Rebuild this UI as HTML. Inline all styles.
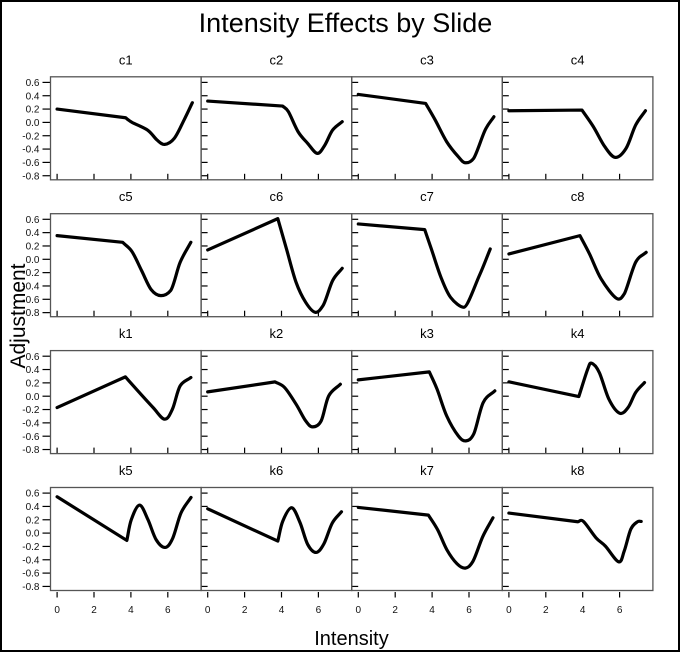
<!DOCTYPE html>
<html><head><meta charset="utf-8"><style>
html,body{margin:0;padding:0;background:#fff;}
svg{display:block;}
text{font-family:"Liberation Sans",Arial,sans-serif;}
</style></head><body>
<svg width="680" height="652" viewBox="0 0 680 652" xmlns="http://www.w3.org/2000/svg">
<defs>
<g id="ytin" stroke="#000" stroke-width="1.2">
<line x1="0" x2="6.5" y1="5.6" y2="5.6"/><line x1="0" x2="6.5" y1="18.93" y2="18.93"/><line x1="0" x2="6.5" y1="32.27" y2="32.27"/><line x1="0" x2="6.5" y1="45.6" y2="45.6"/><line x1="0" x2="6.5" y1="58.93" y2="58.93"/><line x1="0" x2="6.5" y1="72.27" y2="72.27"/><line x1="0" x2="6.5" y1="85.6" y2="85.6"/><line x1="0" x2="6.5" y1="98.93" y2="98.93"/>
</g>
<g id="ytout" stroke="#000" stroke-width="1.2">
<line x1="-8" x2="0" y1="5.6" y2="5.6"/><line x1="-8" x2="0" y1="18.93" y2="18.93"/><line x1="-8" x2="0" y1="32.27" y2="32.27"/><line x1="-8" x2="0" y1="45.6" y2="45.6"/><line x1="-8" x2="0" y1="58.93" y2="58.93"/><line x1="-8" x2="0" y1="72.27" y2="72.27"/><line x1="-8" x2="0" y1="85.6" y2="85.6"/><line x1="-8" x2="0" y1="98.93" y2="98.93"/>
</g>
<g id="xtin" stroke="#000" stroke-width="1.2">
<line x1="6.6" x2="6.6" y1="103" y2="97"/><line x1="43.5" x2="43.5" y1="103" y2="97"/><line x1="80.4" x2="80.4" y1="103" y2="97"/><line x1="117.3" x2="117.3" y1="103" y2="97"/>
</g>
<g id="xtout" stroke="#000" stroke-width="1.2">
<line x1="6.6" x2="6.6" y1="104.5" y2="110"/><line x1="43.5" x2="43.5" y1="104.5" y2="110"/><line x1="80.4" x2="80.4" y1="104.5" y2="110"/><line x1="117.3" x2="117.3" y1="104.5" y2="110"/>
</g>
<g id="ylab" font-size="10" fill="#111" text-anchor="end">
<text x="-11" y="9.2">0.6</text><text x="-11" y="22.5">0.4</text><text x="-11" y="35.9">0.2</text><text x="-11" y="49.2">0.0</text><text x="-11" y="62.5">-0.2</text><text x="-11" y="75.9">-0.4</text><text x="-11" y="89.2">-0.6</text><text x="-11" y="102.5">-0.8</text>
</g>
</defs>
<rect x="0" y="0" width="680" height="652" fill="#fff"/>
<rect x="1" y="1" width="678" height="650" fill="none" stroke="#000" stroke-width="2"/>

<text x="345.5" y="32" font-size="27" text-anchor="middle" fill="#000">Intensity Effects by Slide</text>
<text x="351.5" y="645" font-size="20" text-anchor="middle" fill="#000">Intensity</text>
<text transform="translate(25,316) rotate(-90)" font-size="21" text-anchor="middle" fill="#000">Adjustment</text>

<!-- Row 1 -->
<g transform="translate(50.5,76.8)">
<text x="75.3" y="-12.5" font-size="13" text-anchor="middle">c1</text>
<use href="#ytout"/><use href="#ylab"/><use href="#xtin"/>
<g transform="translate(6.6,45.6) scale(18.45,-66.67)"><path d="M0,0.2 L3.71,0.07 C3.827,0.047 3.862,0.031 4.06,0 S4.673,-0.071 4.9,-0.115 S5.265,-0.229 5.42,-0.265 S5.675,-0.334 5.83,-0.33 S6.175,-0.301 6.35,-0.24 S6.717,-0.054 6.88,0.035 S7.18,0.208 7.33,0.295" fill="none" stroke="#000" stroke-width="3.2" stroke-linejoin="round" stroke-linecap="round" vector-effect="non-scaling-stroke"/></g>
<rect x="0" y="0" width="150.6" height="103" fill="none" stroke="#555" stroke-width="1.3"/>
</g>
<g transform="translate(201.1,76.8)">
<text x="75.3" y="-12.5" font-size="13" text-anchor="middle">c2</text>
<use href="#ytin"/><use href="#xtin"/>
<g transform="translate(6.6,45.6) scale(18.45,-66.67)"><path d="M0,0.32 L4.06,0.245 C4.165,0.217 4.235,0.224 4.375,0.16 S4.726,-0.061 4.9,-0.14 S5.247,-0.261 5.42,-0.315 S5.785,-0.461 5.94,-0.465 S6.212,-0.398 6.35,-0.34 S6.613,-0.173 6.77,-0.115 S7.117,-0.032 7.29,0.01" fill="none" stroke="#000" stroke-width="3.2" stroke-linejoin="round" stroke-linecap="round" vector-effect="non-scaling-stroke"/></g>
<rect x="0" y="0" width="150.6" height="103" fill="none" stroke="#555" stroke-width="1.3"/>
</g>
<g transform="translate(351.7,76.8)">
<text x="75.3" y="-12.5" font-size="13" text-anchor="middle">c3</text>
<use href="#ytin"/><use href="#xtin"/>
<g transform="translate(6.6,45.6) scale(18.45,-66.67)"><path d="M0,0.42 L3.65,0.285 C3.823,0.202 3.98,0.131 4.17,0.035 S4.582,-0.198 4.79,-0.29 S5.253,-0.463 5.42,-0.515 S5.652,-0.601 5.79,-0.605 S6.09,-0.6 6.25,-0.54 S6.692,-0.219 6.875,-0.115 S7.192,0.018 7.35,0.085" fill="none" stroke="#000" stroke-width="3.2" stroke-linejoin="round" stroke-linecap="round" vector-effect="non-scaling-stroke"/></g>
<rect x="0" y="0" width="150.6" height="103" fill="none" stroke="#555" stroke-width="1.3"/>
</g>
<g transform="translate(502.3,76.8)">
<text x="75.3" y="-12.5" font-size="13" text-anchor="middle">c4</text>
<use href="#ytin"/><use href="#xtin"/>
<g transform="translate(6.6,45.6) scale(18.45,-66.67)"><path d="M0,0.175 L3.96,0.185 C4.167,0.102 4.373,0.027 4.58,-0.065 S5.002,-0.288 5.2,-0.365 S5.578,-0.521 5.77,-0.525 S6.167,-0.471 6.35,-0.39 S6.695,-0.134 6.87,-0.04 S7.223,0.103 7.4,0.175" fill="none" stroke="#000" stroke-width="3.2" stroke-linejoin="round" stroke-linecap="round" vector-effect="non-scaling-stroke"/></g>
<rect x="0" y="0" width="150.6" height="103" fill="none" stroke="#555" stroke-width="1.3"/>
</g>

<!-- Row 2 -->
<g transform="translate(50.5,213.7)">
<text x="75.3" y="-12.5" font-size="13" text-anchor="middle">c5</text>
<use href="#ytout"/><use href="#ylab"/><use href="#xtin"/>
<g transform="translate(6.6,45.6) scale(18.45,-66.67)"><path d="M0,0.355 L3.55,0.255 C3.72,0.208 3.888,0.186 4.06,0.115 S4.407,-0.075 4.58,-0.17 S4.925,-0.393 5.1,-0.455 S5.455,-0.545 5.63,-0.545 S5.977,-0.53 6.15,-0.47 S6.487,-0.166 6.67,-0.045 S7.057,0.155 7.25,0.255" fill="none" stroke="#000" stroke-width="3.2" stroke-linejoin="round" stroke-linecap="round" vector-effect="non-scaling-stroke"/></g>
<rect x="0" y="0" width="150.6" height="103" fill="none" stroke="#555" stroke-width="1.3"/>
</g>
<g transform="translate(201.1,213.7)">
<text x="75.3" y="-12.5" font-size="13" text-anchor="middle">c6</text>
<use href="#ytin"/><use href="#xtin"/>
<g transform="translate(6.6,45.6) scale(18.45,-66.67)"><path d="M0,0.14 L3.8,0.61 C3.957,0.458 4.105,0.314 4.27,0.155 S4.617,-0.212 4.79,-0.345 S5.137,-0.57 5.31,-0.645 S5.673,-0.787 5.83,-0.795 S6.093,-0.76 6.25,-0.695 S6.597,-0.413 6.77,-0.32 S7.117,-0.197 7.29,-0.135" fill="none" stroke="#000" stroke-width="3.2" stroke-linejoin="round" stroke-linecap="round" vector-effect="non-scaling-stroke"/></g>
<rect x="0" y="0" width="150.6" height="103" fill="none" stroke="#555" stroke-width="1.3"/>
</g>
<g transform="translate(351.7,213.7)">
<text x="75.3" y="-12.5" font-size="13" text-anchor="middle">c7</text>
<use href="#ytin"/><use href="#xtin"/>
<g transform="translate(6.6,45.6) scale(18.45,-66.67)"><path d="M0,0.53 L3.6,0.445 C3.72,0.348 3.813,0.274 3.96,0.155 S4.307,-0.149 4.48,-0.27 S4.793,-0.495 5,-0.57 S5.52,-0.72 5.72,-0.72 S6.322,-0.391 6.56,-0.245 S6.953,0.022 7.15,0.155" fill="none" stroke="#000" stroke-width="3.2" stroke-linejoin="round" stroke-linecap="round" vector-effect="non-scaling-stroke"/></g>
<rect x="0" y="0" width="150.6" height="103" fill="none" stroke="#555" stroke-width="1.3"/>
</g>
<g transform="translate(502.3,213.7)">
<text x="75.3" y="-12.5" font-size="13" text-anchor="middle">c8</text>
<use href="#ytin"/><use href="#xtin"/>
<g transform="translate(6.6,45.6) scale(18.45,-66.67)"><path d="M0,0.08 L3.85,0.355 C4.023,0.263 4.178,0.188 4.37,0.08 S4.757,-0.184 5,-0.295 S5.622,-0.548 5.83,-0.585 S6.12,-0.57 6.25,-0.52 S6.672,-0.149 6.87,-0.045 S7.25,0.055 7.44,0.105" fill="none" stroke="#000" stroke-width="3.2" stroke-linejoin="round" stroke-linecap="round" vector-effect="non-scaling-stroke"/></g>
<rect x="0" y="0" width="150.6" height="103" fill="none" stroke="#555" stroke-width="1.3"/>
</g>

<!-- Row 3 -->
<g transform="translate(50.5,350.6)">
<text x="75.3" y="-12.5" font-size="13" text-anchor="middle">k1</text>
<use href="#ytout"/><use href="#ylab"/><use href="#xtin"/>
<g transform="translate(6.6,45.6) scale(18.45,-66.67)"><path d="M0,-0.17 L3.7,0.29 C3.925,0.22 4.125,0.157 4.375,0.08 S4.957,-0.099 5.2,-0.17 S5.655,-0.341 5.83,-0.345 S6.11,-0.278 6.25,-0.195 S6.503,0.076 6.67,0.155 S7.057,0.238 7.25,0.28" fill="none" stroke="#000" stroke-width="3.2" stroke-linejoin="round" stroke-linecap="round" vector-effect="non-scaling-stroke"/></g>
<rect x="0" y="0" width="150.6" height="103" fill="none" stroke="#555" stroke-width="1.3"/>
</g>
<g transform="translate(201.1,350.6)">
<text x="75.3" y="-12.5" font-size="13" text-anchor="middle">k2</text>
<use href="#ytin"/><use href="#xtin"/>
<g transform="translate(6.6,45.6) scale(18.45,-66.67)"><path d="M0,0.065 L3.65,0.215 C3.823,0.187 3.98,0.186 4.17,0.13 S4.6,-0.037 4.79,-0.12 S5.16,-0.313 5.31,-0.37 S5.55,-0.46 5.69,-0.46 S6.005,-0.448 6.15,-0.37 S6.387,-0.087 6.56,0.005 S6.98,0.122 7.19,0.18" fill="none" stroke="#000" stroke-width="3.2" stroke-linejoin="round" stroke-linecap="round" vector-effect="non-scaling-stroke"/></g>
<rect x="0" y="0" width="150.6" height="103" fill="none" stroke="#555" stroke-width="1.3"/>
</g>
<g transform="translate(351.7,350.6)">
<text x="75.3" y="-12.5" font-size="13" text-anchor="middle">k3</text>
<use href="#ytin"/><use href="#xtin"/>
<g transform="translate(6.6,45.6) scale(18.45,-66.67)"><path d="M0,0.245 L3.85,0.365 C3.99,0.278 4.113,0.215 4.27,0.105 S4.598,-0.178 4.79,-0.295 S5.247,-0.533 5.42,-0.595 S5.692,-0.674 5.83,-0.67 S6.093,-0.655 6.25,-0.57 S6.578,-0.203 6.77,-0.095 S7.19,0.022 7.4,0.08" fill="none" stroke="#000" stroke-width="3.2" stroke-linejoin="round" stroke-linecap="round" vector-effect="non-scaling-stroke"/></g>
<rect x="0" y="0" width="150.6" height="103" fill="none" stroke="#555" stroke-width="1.3"/>
</g>
<g transform="translate(502.3,350.6)">
<text x="75.3" y="-12.5" font-size="13" text-anchor="middle">k4</text>
<use href="#ytin"/><use href="#xtin"/>
<g transform="translate(6.6,45.6) scale(18.45,-66.67)"><path d="M0,0.215 L3.79,-0.005 C3.95,0.132 4.155,0.322 4.27,0.405 S4.375,0.503 4.48,0.495 S4.743,0.445 4.9,0.355 S5.237,0.057 5.42,-0.045 S5.827,-0.234 6,-0.255 S6.315,-0.222 6.46,-0.17 S6.722,-0.008 6.87,0.055 S7.19,0.155 7.35,0.205" fill="none" stroke="#000" stroke-width="3.2" stroke-linejoin="round" stroke-linecap="round" vector-effect="non-scaling-stroke"/></g>
<rect x="0" y="0" width="150.6" height="103" fill="none" stroke="#555" stroke-width="1.3"/>
</g>

<!-- Row 4 -->
<g transform="translate(50.5,487.5)">
<text x="75.3" y="-12.5" font-size="13" text-anchor="middle">k5</text>
<use href="#ytout"/><use href="#ylab"/><use href="#xtout"/>
<g font-size="10" fill="#111" text-anchor="middle"><text x="6.6" y="125.5">0</text><text x="43.5" y="125.5">2</text><text x="80.4" y="125.5">4</text><text x="117.3" y="125.5">6</text></g>
<g transform="translate(6.6,45.6) scale(18.45,-66.67)"><path d="M0,0.545 L3.78,-0.11 C3.86,-0.007 3.905,0.112 4.02,0.2 S4.32,0.419 4.47,0.42 S4.77,0.292 4.92,0.205 S5.213,-0.03 5.37,-0.1 S5.71,-0.219 5.86,-0.215 S6.127,-0.162 6.27,-0.075 S6.555,0.203 6.72,0.305 S7.08,0.458 7.26,0.535" fill="none" stroke="#000" stroke-width="3.2" stroke-linejoin="round" stroke-linecap="round" vector-effect="non-scaling-stroke"/></g>
<rect x="0" y="0" width="150.6" height="103" fill="none" stroke="#555" stroke-width="1.3"/>
</g>
<g transform="translate(201.1,487.5)">
<text x="75.3" y="-12.5" font-size="13" text-anchor="middle">k6</text>
<use href="#ytin"/><use href="#xtout"/>
<g font-size="10" fill="#111" text-anchor="middle"><text x="6.6" y="125.5">0</text><text x="43.5" y="125.5">2</text><text x="80.4" y="125.5">4</text><text x="117.3" y="125.5">6</text></g>
<g transform="translate(6.6,45.6) scale(18.45,-66.67)"><path d="M0,0.365 L3.8,-0.12 C3.89,-0.02 3.945,0.097 4.07,0.18 S4.395,0.383 4.55,0.38 S4.855,0.252 5,0.16 S5.273,-0.095 5.42,-0.17 S5.733,-0.292 5.88,-0.29 S6.155,-0.233 6.3,-0.16 S6.592,0.07 6.75,0.15 S7.083,0.263 7.25,0.32" fill="none" stroke="#000" stroke-width="3.2" stroke-linejoin="round" stroke-linecap="round" vector-effect="non-scaling-stroke"/></g>
<rect x="0" y="0" width="150.6" height="103" fill="none" stroke="#555" stroke-width="1.3"/>
</g>
<g transform="translate(351.7,487.5)">
<text x="75.3" y="-12.5" font-size="13" text-anchor="middle">k7</text>
<use href="#ytin"/><use href="#xtout"/>
<g font-size="10" fill="#111" text-anchor="middle"><text x="6.6" y="125.5">0</text><text x="43.5" y="125.5">2</text><text x="80.4" y="125.5">4</text><text x="117.3" y="125.5">6</text></g>
<g transform="translate(6.6,45.6) scale(18.45,-66.67)"><path d="M0,0.385 L3.8,0.27 C3.967,0.197 4.133,0.137 4.3,0.05 S4.625,-0.165 4.8,-0.25 S5.183,-0.414 5.35,-0.46 S5.658,-0.53 5.8,-0.525 S6.042,-0.5 6.2,-0.43 S6.567,-0.16 6.75,-0.05 S7.117,0.137 7.3,0.23" fill="none" stroke="#000" stroke-width="3.2" stroke-linejoin="round" stroke-linecap="round" vector-effect="non-scaling-stroke"/></g>
<rect x="0" y="0" width="150.6" height="103" fill="none" stroke="#555" stroke-width="1.3"/>
</g>
<g transform="translate(502.3,487.5)">
<text x="75.3" y="-12.5" font-size="13" text-anchor="middle">k8</text>
<use href="#ytin"/><use href="#xtout"/>
<g font-size="10" fill="#111" text-anchor="middle"><text x="6.6" y="125.5">0</text><text x="43.5" y="125.5">2</text><text x="80.4" y="125.5">4</text><text x="117.3" y="125.5">6</text></g>
<g transform="translate(6.6,45.6) scale(18.45,-66.67)"><path d="M0,0.3 L3.73,0.17 C3.833,0.172 3.875,0.215 4.04,0.175 S4.522,-0.008 4.72,-0.07 S5.025,-0.135 5.23,-0.195 S5.78,-0.418 5.95,-0.43 S6.14,-0.352 6.25,-0.27 S6.49,-0.013 6.61,0.06 S6.877,0.151 6.97,0.17 S7.103,0.173 7.17,0.175" fill="none" stroke="#000" stroke-width="3.2" stroke-linejoin="round" stroke-linecap="round" vector-effect="non-scaling-stroke"/></g>
<rect x="0" y="0" width="150.6" height="103" fill="none" stroke="#555" stroke-width="1.3"/>
</g>
</svg>
</body></html>
